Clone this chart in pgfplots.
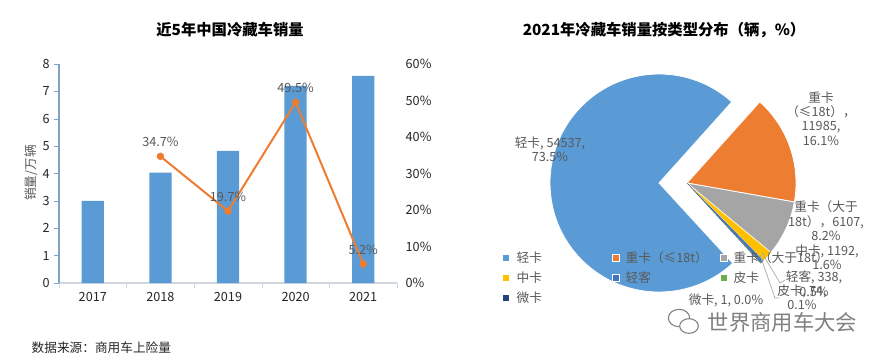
\documentclass[border=0pt]{standalone}
\usepackage{fontspec}
\setmainfont{Noto Sans CJK SC}
\usepackage{pgfplots}
\pgfplotsset{compat=1.18}
\definecolor{barblue}{HTML}{5B9BD5}
\definecolor{lineorange}{HTML}{ED7D31}
\definecolor{piegray}{HTML}{A5A5A5}
\definecolor{pieyellow}{HTML}{FFC000}
\definecolor{piedblue}{HTML}{4472C4}
\definecolor{piegreen}{HTML}{70AD47}
\definecolor{pienavy}{HTML}{264478}
\definecolor{txtgray}{HTML}{595959}
\definecolor{txtdark}{HTML}{262626}
\definecolor{xaxisgray}{HTML}{D0D7DE}
\definecolor{yaxisblue}{HTML}{7EA6C8}
\definecolor{leadgray}{HTML}{A6A6A6}
\newcommand\lab{\fontsize{9.5}{10.8}\selectfont}
% pie data (vehicles, 2021)
\def\vQingka{54537}
\def\vZhongA{11985}
\def\vZhongB{6107}
\def\vZhongka{1192}
\def\vQingke{338}
\def\vPika{74}
\def\vWeika{1}
\begin{document}
\begin{tikzpicture}
\fill[white] (0,0) rectangle (666pt,271.5pt);
\edef\T{\fpeval{\vQingka+\vZhongA+\vZhongB+\vZhongka+\vQingke+\vPika+\vWeika}}
\edef\aA{48.1}
\edef\aB{\fpeval{\aA-360*\vZhongA/\T}}
\edef\aC{\fpeval{\aB-360*\vZhongB/\T}}
\edef\aD{\fpeval{\aC-360*\vZhongka/\T}}
\edef\aE{\fpeval{\aD-360*\vQingke/\T}}
\edef\aF{\fpeval{\aE-360*\vPika/\T}}
\edef\aG{\fpeval{\aF-360*\vWeika/\T}}
\edef\aL{\fpeval{\aA+360*\vQingka/\T}}
% ---------- bars ----------
\begin{axis}[at={(44.25pt,59.25pt)}, anchor=south west, scale only axis,
  width=253.5pt, height=164.25pt,
  xmin=-0.5, xmax=4.5, ymin=0, ymax=8,
  axis x line*=bottom, axis y line*=left,
  xtick={0,1,2,3,4}, xticklabels={2017,2018,2019,2020,2021},
  xtick style={draw=none},
  extra x ticks={-0.5,0.5,1.5,2.5,3.5,4.5}, extra x tick labels={},
  extra x tick style={xtick style={draw=xaxisgray}},
  ytick={0,1,...,8}, ytick style={draw=yaxisblue},
  major tick length=3.5pt,
  tick align=outside,
  x axis line style={draw=xaxisgray, -, line width=0.8pt},
  y axis line style={draw=yaxisblue, -, line width=0.8pt},
  tick label style={font=\lab, text=txtdark},
  /pgf/number format/assume math mode=true,
]
\addplot[ybar, bar width=16.7pt, bar shift=0pt, fill=barblue, draw=none]
  coordinates {(0,3.0) (1,4.03) (2,4.83) (3,7.2) (4,7.57)};
\end{axis}
% ---------- growth line ----------
\begin{axis}[at={(44.25pt,59.25pt)}, anchor=south west, scale only axis,
  width=253.5pt, height=164.25pt,
  xmin=-0.5, xmax=4.5, ymin=0, ymax=60,
  axis y line*=right, axis x line=none,
  y axis line style={draw=none},
  ytick={0,10,...,60}, major tick length=0pt,
  yticklabel={\pgfmathprintnumber{\tick}\%},
  yticklabel style={xshift=3pt},
  tick label style={font=\lab, text=txtdark},
  /pgf/number format/assume math mode=true,
]
\addplot[color=lineorange, line width=1.5pt, mark=*, mark size=2pt,
  nodes near coords={\pgfmathprintnumber[fixed,precision=1]{\pgfplotspointmeta}\%},
  nodes near coords style={font=\lab, text=txtgray, anchor=center, yshift=11pt}]
  coordinates {(1,34.7) (2,19.7) (3,49.5) (4,5.2)};
\end{axis}
% ---------- overlay: titles, pie, legend ----------
\begin{axis}[at={(0pt,0pt)}, anchor=south west, scale only axis,
  width=666pt, height=271.5pt, xmin=0, xmax=888, ymin=0, ymax=362,
  y dir=reverse, hide axis, clip=false]
\node[font=\fontsize{11.5}{13}\selectfont\bfseries, text=black] at (axis cs:230,30) {近5年中国冷藏车销量};
\node[font=\fontsize{11.5}{13}\selectfont\bfseries, text=black] at (axis cs:664,30) {2021年冷藏车销量按类型分布（辆，\%）};
\node[font=\lab, text=txtgray, rotate=90] at (axis cs:31,173) {销量/万辆};
\node[font=\lab, text=txtdark, anchor=west] at (axis cs:27,348) {数据来源：商用车上险量};
% pie
\fill[barblue, draw=white, line width=0.6pt] (axis cs:659,183) -- ++(\aA:81.75pt) arc[start angle=\aA, end angle=\aL, radius=81.75pt] -- cycle;
\fill[lineorange, draw=white, line width=0.6pt] (axis cs:687,183) -- ++(\aA:81.75pt) arc[start angle=\aA, end angle=\aB, radius=81.75pt] -- cycle;
\fill[piegray, draw=white, line width=0.6pt] (axis cs:687,183) -- ++(\aB:81.75pt) arc[start angle=\aB, end angle=\aC, radius=81.75pt] -- cycle;
\fill[pieyellow, draw=white, line width=0.3pt] (axis cs:687,183) -- ++(\aC:81.75pt) arc[start angle=\aC, end angle=\aD, radius=81.75pt] -- cycle;
\fill[piedblue] (axis cs:687,183) -- ++(\aD:81.75pt) arc[start angle=\aD, end angle=\aE, radius=81.75pt] -- cycle;
\fill[piegreen] (axis cs:687,183) -- ++(\aE:81.75pt) arc[start angle=\aE, end angle=\aF, radius=81.75pt] -- cycle;
\draw[pienavy, line width=0.2pt] (axis cs:687,183) -- ++(\aF:81.75pt);
% leader lines
\draw[leadgray, line width=0.5pt] (axis cs:762,253) -- (axis cs:780,283) -- (axis cs:785,280);
\draw[leadgray, line width=0.5pt] (axis cs:760,255) -- (axis cs:775,298) -- (axis cs:779,298);
% data labels
\node[font=\lab, text=txtgray, align=center] at (axis cs:550,149) {轻卡, 54537,\\73.5\%};
\node[font=\lab, text=txtgray, align=center] at (axis cs:821,118.5) {重卡\\（≤18t），\\11985,\\16.1\%};
\node[font=\lab, text=txtgray, align=center] at (axis cs:826,221) {重卡（大于\\18t），6107,\\8.2\%};
\node[font=\lab, text=txtgray, align=center] at (axis cs:827,257.5) {中卡, 1192,\\1.6\%};
\node[font=\lab, text=txtgray, align=center] at (axis cs:802,297.5) {皮卡, 74,\\0.1\%};
\node[font=\lab, text=txtgray, align=center] at (axis cs:814,283.7) {轻客, 338,\\0.5\%};
\node[font=\lab, text=txtgray] at (axis cs:726,300) {微卡, 1, 0.0\%};
% legend
\foreach \c/\xx/\yy in {barblue/506/258, lineorange/616/258, piegray/724/258, pieyellow/506/278, piedblue/616/278, piegreen/724/278, pienavy/506/298}{
  \edef\tmp{\noexpand\fill[\c, draw=white, line width=0.5pt] (axis cs:\xx,\yy) ++(-2.6pt,-2.6pt) rectangle ++(5.2pt,5.2pt);}
  \tmp
}
\node[font=\lab, text=txtgray, anchor=west] at (axis cs:512,258) {轻卡};
\node[font=\lab, text=txtgray, anchor=west] at (axis cs:621,258) {重卡（≤18t）};
\node[font=\lab, text=txtgray, anchor=west] at (axis cs:729,258) {重卡（大于18t）};
\node[font=\lab, text=txtgray, anchor=west] at (axis cs:512,278) {中卡};
\node[font=\lab, text=txtgray, anchor=west] at (axis cs:621,278) {轻客};
\node[font=\lab, text=txtgray, anchor=west] at (axis cs:729,278) {皮卡};
\node[font=\lab, text=txtgray, anchor=west] at (axis cs:512,298) {微卡};
% watermark
\draw[gray, line width=0.8pt] (axis cs:679,318) ellipse[x radius=8pt, y radius=6.5pt];
\draw[gray, line width=0.8pt, fill=white] (axis cs:689,326) ellipse[x radius=7pt, y radius=5.5pt];
\node[font=\fontsize{16}{18}\selectfont, text=gray, anchor=west] at (axis cs:703,322) {世界商用车大会};
\end{axis}
\pgfresetboundingbox
\path[use as bounding box] (0,0) rectangle (666pt,271.5pt);
\end{tikzpicture}
\end{document}
